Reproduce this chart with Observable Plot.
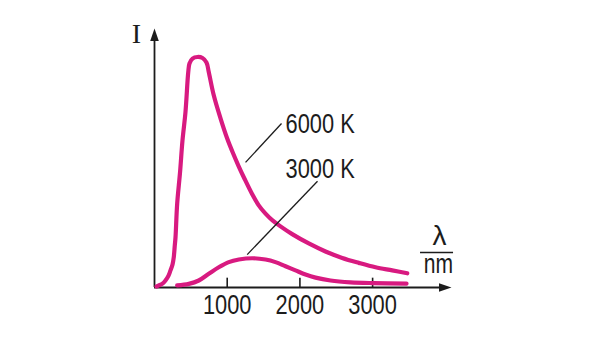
<!DOCTYPE html>
<html>
<head>
<meta charset="utf-8">
<script src="https://cdn.jsdelivr.net/npm/d3@7"></script>
<script src="https://cdn.jsdelivr.net/npm/@observablehq/plot@0.6"></script>
<style>
  html, body { margin: 0; padding: 0; background: #ffffff; }
  #chart { width: 600px; height: 355px; }
</style>
</head>
<body>
<div id="chart"></div>
<script>
// ---- Data (λ in nm, I in arbitrary units 0–100) ----
const lambda6000 = [28, 59, 110, 151, 193, 220, 248, 265, 279, 289, 312, 351, 385, 426, 464, 481, 523, 591, 660, 715, 747, 816, 908, 1000, 1069, 1155, 1238, 1344, 1431, 1527, 1623, 1733, 1894, 2122, 2352, 2582, 2810, 3040, 3270, 3476];
const I6000      = [0.4, 0.8, 1.5, 2.7, 4.6, 6.6, 8.9, 11.7, 16.2, 19.4, 32.4, 44.4, 56.8, 67.7, 83.1, 86.5, 88.4, 89.0, 88.6, 86.9, 83.1, 74.1, 65.3, 57.5, 52.6, 47.0, 42.0, 36.0, 31.8, 28.5, 25.9, 23.6, 20.6, 17.0, 13.9, 11.4, 9.5, 7.8, 6.6, 5.5];

const lambda3000 = [312, 472, 609, 747, 884, 1022, 1160, 1344, 1527, 1664, 1802, 1939, 2077, 2215, 2421, 2696, 3012, 3466];
const I3000      = [0.8, 1.4, 2.7, 5.3, 7.8, 9.8, 10.8, 11.3, 10.8, 9.8, 8.2, 6.6, 5.0, 3.8, 2.7, 2.0, 1.7, 1.5];

const xTicks      = [1000, 2000, 3000];
const xTickLabels = ["1000", "2000", "3000"];

const seriesLabels = ["6000 K", "3000 K"];
const labelLambda  = [1802, 1802];
const labelI       = [59.5, 42.1];
// leader lines: from curve to label
const leaderX1 = [1252, 1275];
const leaderY1 = [48.3, 12.7];
const leaderX2 = [1747, 2242];
const leaderY2 = [63.3, 41.0];

const yAxisLabel = "I";
const xAxisLabelTop = "λ";
const xAxisLabelBottom = "nm";

// ---- Build tables ----
const curves = [
  ...lambda6000.map((x, i) => ({series: "6000 K", x, y: I6000[i]})),
  ...lambda3000.map((x, i) => ({series: "3000 K", x, y: I3000[i]}))
];
const labels = seriesLabels.map((t, i) => ({t, x: labelLambda[i], y: labelI[i]}));
const leaders = seriesLabels.map((t, i) => ({x1: leaderX1[i], y1: leaderY1[i], x2: leaderX2[i], y2: leaderY2[i]}));

const xMax = 4085, yMax = 100;
const ink = "#1c1c1c";
const magenta = "#d81a80";
const sans = "'Liberation Sans', Arial, Helvetica, sans-serif";

const arrowHead = {
  draw(context, l) {
    context.moveTo(-4.3, 0);
    context.lineTo(0, -l);
    context.lineTo(4.3, 0);
    context.closePath();
  }
};

const chart = Plot.plot({
  width: 600,
  height: 355,
  marginLeft: 154,
  marginRight: 149,
  marginTop: 28,
  marginBottom: 68,
  x: {domain: [0, xMax]},
  y: {domain: [0, yMax], axis: null},
  style: {fontFamily: sans, fontSize: "28px", color: ink, background: "#ffffff", overflow: "visible"},
  marks: [
    // axes
    Plot.ruleY([0], {x1: 0, x2: xMax - 150, stroke: ink, strokeWidth: 1.8}),
    Plot.ruleX([0], {y1: 0, y2: yMax - 3, stroke: ink, strokeWidth: 1.8}),
    Plot.vector([{x: xMax, y: 0, r: 90}, {x: 0, y: yMax, r: 0}], {
      x: "x", y: "y", rotate: "r", length: 12.5, anchor: "end",
      shape: arrowHead, fill: ink, stroke: "none"
    }),
    Plot.ruleX(xTicks, {y1: 0, y2: 3.6, stroke: ink, strokeWidth: 1.6}),
    Plot.axisX(xTicks, {
      tickSize: 0, tickPadding: 7, fontSize: 28, label: null,
      tickFormat: (d) => xTickLabels[xTicks.indexOf(d)]
    }),
    // curves
    Plot.line(curves, {x: "x", y: "y", z: "series", stroke: magenta, strokeWidth: 4.2, curve: "catmull-rom", strokeLinecap: "round", strokeLinejoin: "round"}),
    // leader lines and labels
    Plot.link(leaders, {x1: "x1", y1: "y1", x2: "x2", y2: "y2", stroke: ink, strokeWidth: 1.3}),
    Plot.text(labels, {x: "x", y: "y", text: "t", textAnchor: "start", lineAnchor: "bottom", fontSize: 28, fill: ink}),
    // axis labels
    Plot.text([yAxisLabel], {frameAnchor: "top-left", dx: -18, dy: 14.7, lineAnchor: "bottom", textAnchor: "middle", fontFamily: "'Liberation Serif', 'Times New Roman', serif", fontSize: 28, fill: ink}),
    Plot.text([xAxisLabelTop], {frameAnchor: "bottom-right", dx: -12, dy: -43, lineAnchor: "bottom", textAnchor: "middle", fontSize: 28, fill: ink}),
    Plot.ruleY([13.5], {x1: 3659, x2: 4113, stroke: ink, strokeWidth: 1.6}),
    Plot.text([xAxisLabelBottom], {frameAnchor: "bottom-right", dx: -13, dy: -15, lineAnchor: "bottom", textAnchor: "middle", fontSize: 27, fill: ink})
  ]
});
document.getElementById("chart").appendChild(chart);

// force the tick-label size and give the condensed (narrow Helvetica) look of the original
d3.select(chart).selectAll('g[aria-label="x-axis tick label"]').attr("font-size", 28).selectAll("text").attr("font-size", 28);
const condensed = new Set([...xTickLabels, ...seriesLabels, xAxisLabelBottom]);
d3.select(chart).selectAll("text").each(function () {
  const s = this.textContent;
  if (condensed.has(s)) {
    const len = this.getComputedTextLength();
    this.setAttribute("textLength", (len * 0.78).toFixed(1));
    this.setAttribute("lengthAdjust", "spacingAndGlyphs");
  }
});
</script>
</body>
</html>
